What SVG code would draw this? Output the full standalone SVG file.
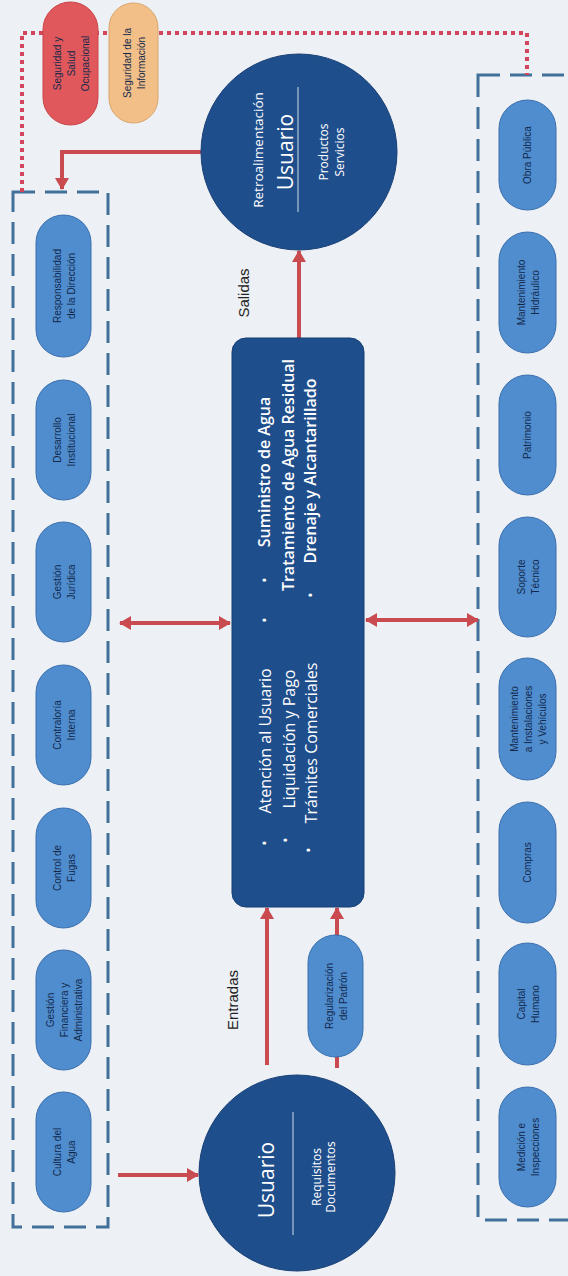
<svg xmlns="http://www.w3.org/2000/svg" width="568" height="1276" viewBox="0 0 568 1276">
<defs>
<style>
.bg{fill:#edf0f4}
.pill{fill:#4f8dcf;stroke:#3b6fae;stroke-width:1}
.pt{font-family:"Liberation Sans",Arial,sans-serif;font-size:10px;fill:#13294b;text-anchor:middle;dominant-baseline:central}
.dark{fill:#1f4e8c;stroke:#173f75;stroke-width:1}
.wt{font-family:"Open Sans","Noto Sans",sans-serif;fill:#ffffff;text-anchor:middle;dominant-baseline:central}
.box{fill:none;stroke:#41709a;stroke-width:3;stroke-dasharray:22 10}
.arr{stroke:#c94a4f;stroke-width:4;fill:none}
.dot{stroke:#d2455a;stroke-width:4;fill:none;stroke-dasharray:4 4}
.lbl{font-family:"Liberation Sans",Arial,sans-serif;font-size:15px;fill:#222222;text-anchor:middle;dominant-baseline:central}
.sep{stroke:#ffffff;stroke-width:1;opacity:0.8}
</style>
<marker id="ah" viewBox="0 0 12 14" refX="11" refY="7" markerWidth="12" markerHeight="14" markerUnits="userSpaceOnUse" orient="auto-start-reverse">
<path d="M0,0 L12,7 L0,14 z" fill="#c94a4f"/>
</marker>
</defs>
<rect class="bg" x="0" y="0" width="568" height="1276"/>

<g id="containers">
<rect class="box" x="13" y="192" width="95" height="1035"/>
<rect class="box" x="478" y="75" width="130" height="1145"/>
<path class="dot" d="M22,192 V33 H527 V75"/>
</g>

<g id="connectors">
<line class="arr" x1="299" y1="338" x2="299" y2="251" marker-end="url(#ah)"/>
<line class="arr" x1="267" y1="1065" x2="267" y2="908" marker-end="url(#ah)"/>
<line class="arr" x1="337" y1="1068" x2="337" y2="908" marker-end="url(#ah)"/>
<line class="arr" x1="120" y1="623" x2="230" y2="623" marker-start="url(#ah)" marker-end="url(#ah)"/>
<line class="arr" x1="366" y1="620" x2="478" y2="620" marker-start="url(#ah)" marker-end="url(#ah)"/>
<path class="arr" d="M201,152 H62 V189" marker-end="url(#ah)"/>
<line class="arr" x1="118" y1="1175" x2="198" y2="1175" marker-end="url(#ah)"/>
</g>

<text class="lbl" x="243" y="293" transform="rotate(-90 243 293)">Salidas</text>
<text class="lbl" x="232" y="1000" transform="rotate(-90 232 1000)">Entradas</text>

<g id="seguridad-salud">
<rect x="43" y="2" width="55" height="123" rx="27.5" fill="#e0585c" stroke="#c84448" stroke-width="1"/>
<text class="pt" x="70.5" y="63.5" transform="rotate(-90 70.5 63.5)"><tspan x="70.5" dy="-14">Seguridad y</tspan><tspan x="70.5" dy="14">Salud</tspan><tspan x="70.5" dy="14">Ocupacional</tspan></text>
</g>
<g id="seguridad-info">
<rect x="109" y="3" width="49" height="120" rx="24.5" fill="#f2bf88" stroke="#d9a56e" stroke-width="1"/>
<text class="pt" x="133.5" y="63" transform="rotate(-90 133.5 63)"><tspan x="133.5" dy="-7">Seguridad de la</tspan><tspan x="133.5" dy="14">Información</tspan></text>
</g>

<g id="usuario-salida">
<circle class="dark" cx="299" cy="152" r="98"/>
<text class="wt" x="258" y="150" font-size="13.5" transform="rotate(-90 258 150)">Retroalimentación</text>
<text class="wt" x="285" y="152" font-size="21" transform="rotate(-90 285 152)">Usuario</text>
<line class="sep" x1="298" y1="87" x2="298" y2="212"/>
<text class="wt" x="323" y="152" font-size="12" transform="rotate(-90 323 152)">Productos</text>
<text class="wt" x="339" y="152" font-size="12" transform="rotate(-90 339 152)">Servicios</text>
</g>

<g id="usuario-entrada">
<circle class="dark" cx="297" cy="1173" r="98"/>
<text class="wt" x="266" y="1180" font-size="21" transform="rotate(-90 266 1180)">Usuario</text>
<line class="sep" x1="293" y1="1112" x2="293" y2="1235"/>
<text class="wt" x="316" y="1177" font-size="12" transform="rotate(-90 316 1177)">Requisitos</text>
<text class="wt" x="330" y="1177" font-size="12" transform="rotate(-90 330 1177)">Documentos</text>
</g>

<g id="procesos">
<rect class="dark" x="232" y="338" width="132" height="569" rx="14"/>
<text class="wt" x="264" y="472" font-size="16" font-weight="600" transform="rotate(-90 264 472)">Suministro de Agua</text>
<text class="wt" x="288" y="475" font-size="16" font-weight="600" transform="rotate(-90 288 475)">Tratamiento de Agua Residual</text>
<text class="wt" x="310" y="471" font-size="16" font-weight="600" transform="rotate(-90 310 471)">Drenaje y Alcantarillado</text>
<text class="wt" x="264" y="580" font-size="14" transform="rotate(-90 264 580)">•</text>
<text class="wt" x="310" y="595" font-size="14" transform="rotate(-90 310 595)">•</text>
<text class="wt" x="264" y="620" font-size="14" transform="rotate(-90 264 620)">•</text>
<text class="wt" x="265" y="741" font-size="16" transform="rotate(-90 265 741)">Atención al Usuario</text>
<text class="wt" x="289" y="739" font-size="16" transform="rotate(-90 289 739)">Liquidación y Pago</text>
<text class="wt" x="311" y="743" font-size="16" transform="rotate(-90 311 743)">Trámites Comerciales</text>
<text class="wt" x="264" y="843" font-size="14" transform="rotate(-90 264 843)">•</text>
<text class="wt" x="285" y="840" font-size="14" transform="rotate(-90 285 840)">•</text>
<text class="wt" x="308" y="850" font-size="14" transform="rotate(-90 308 850)">•</text>
</g>

<g id="regularizacion">
<rect class="pill" x="308" y="935" width="55" height="122" rx="27.5"/>
<text class="pt" x="335.5" y="996" transform="rotate(-90 335.5 996)"><tspan x="335.5" dy="-7">Regularización</tspan><tspan x="335.5" dy="14">del Padrón</tspan></text>
</g>

<g id="responsabilidad">
<rect class="pill" x="36" y="215" width="55" height="142" rx="27.5"/>
<text class="pt" x="63.5" y="286" transform="rotate(-90 63.5 286)"><tspan x="63.5" dy="-7">Responsabilidad</tspan><tspan x="63.5" dy="14">de la Dirección</tspan></text>
</g>
<g id="desarrollo">
<rect class="pill" x="36" y="380" width="55" height="120" rx="27.5"/>
<text class="pt" x="63.5" y="440" transform="rotate(-90 63.5 440)"><tspan x="63.5" dy="-7">Desarrollo</tspan><tspan x="63.5" dy="14">Institucional</tspan></text>
</g>
<g id="juridica">
<rect class="pill" x="36" y="522" width="55" height="120" rx="27.5"/>
<text class="pt" x="63.5" y="582" transform="rotate(-90 63.5 582)"><tspan x="63.5" dy="-7">Gestión</tspan><tspan x="63.5" dy="14">Jurídica</tspan></text>
</g>
<g id="contraloria">
<rect class="pill" x="36" y="665" width="55" height="120" rx="27.5"/>
<text class="pt" x="63.5" y="725" transform="rotate(-90 63.5 725)"><tspan x="63.5" dy="-7">Contraloría</tspan><tspan x="63.5" dy="14">Interna</tspan></text>
</g>
<g id="fugas">
<rect class="pill" x="36" y="808" width="55" height="120" rx="27.5"/>
<text class="pt" x="63.5" y="868" transform="rotate(-90 63.5 868)"><tspan x="63.5" dy="-7">Control de</tspan><tspan x="63.5" dy="14">Fugas</tspan></text>
</g>
<g id="financiera">
<rect class="pill" x="36" y="950" width="55" height="120" rx="27.5"/>
<text class="pt" x="63.5" y="1010" transform="rotate(-90 63.5 1010)"><tspan x="63.5" dy="-14">Gestión</tspan><tspan x="63.5" dy="14">Financiera y</tspan><tspan x="63.5" dy="14">Administrativa</tspan></text>
</g>
<g id="cultura">
<rect class="pill" x="36" y="1092" width="55" height="120" rx="27.5"/>
<text class="pt" x="63.5" y="1152" transform="rotate(-90 63.5 1152)"><tspan x="63.5" dy="-7">Cultura del</tspan><tspan x="63.5" dy="14">Agua</tspan></text>
</g>

<g id="obra">
<rect class="pill" x="499" y="100" width="57" height="110" rx="28.5"/>
<text class="pt" x="527.5" y="155" transform="rotate(-90 527.5 155)">Obra Pública</text>
</g>
<g id="hidraulico">
<rect class="pill" x="499" y="232" width="57" height="121" rx="28.5"/>
<text class="pt" x="527.5" y="292.5" transform="rotate(-90 527.5 292.5)"><tspan x="527.5" dy="-7">Mantenimiento</tspan><tspan x="527.5" dy="14">Hidráulico</tspan></text>
</g>
<g id="patrimonio">
<rect class="pill" x="499" y="375" width="57" height="120" rx="28.5"/>
<text class="pt" x="527.5" y="435" transform="rotate(-90 527.5 435)">Patrimonio</text>
</g>
<g id="soporte">
<rect class="pill" x="499" y="517" width="57" height="120" rx="28.5"/>
<text class="pt" x="527.5" y="577" transform="rotate(-90 527.5 577)"><tspan x="527.5" dy="-7">Soporte</tspan><tspan x="527.5" dy="14">Técnico</tspan></text>
</g>
<g id="instalaciones">
<rect class="pill" x="499" y="658" width="57" height="122" rx="28.5"/>
<text class="pt" x="527.5" y="719" transform="rotate(-90 527.5 719)"><tspan x="527.5" dy="-14">Mantenimiento</tspan><tspan x="527.5" dy="14">a Instalaciones</tspan><tspan x="527.5" dy="14">y Vehículos</tspan></text>
</g>
<g id="compras">
<rect class="pill" x="499" y="802" width="57" height="121" rx="28.5"/>
<text class="pt" x="527.5" y="862.5" transform="rotate(-90 527.5 862.5)">Compras</text>
</g>
<g id="capital">
<rect class="pill" x="499" y="943" width="57" height="122" rx="28.5"/>
<text class="pt" x="527.5" y="1004" transform="rotate(-90 527.5 1004)"><tspan x="527.5" dy="-7">Capital</tspan><tspan x="527.5" dy="14">Humano</tspan></text>
</g>
<g id="medicion">
<rect class="pill" x="499" y="1087" width="57" height="120" rx="28.5"/>
<text class="pt" x="527.5" y="1147" transform="rotate(-90 527.5 1147)"><tspan x="527.5" dy="-7">Medición e</tspan><tspan x="527.5" dy="14">Inspecciones</tspan></text>
</g>
</svg>
